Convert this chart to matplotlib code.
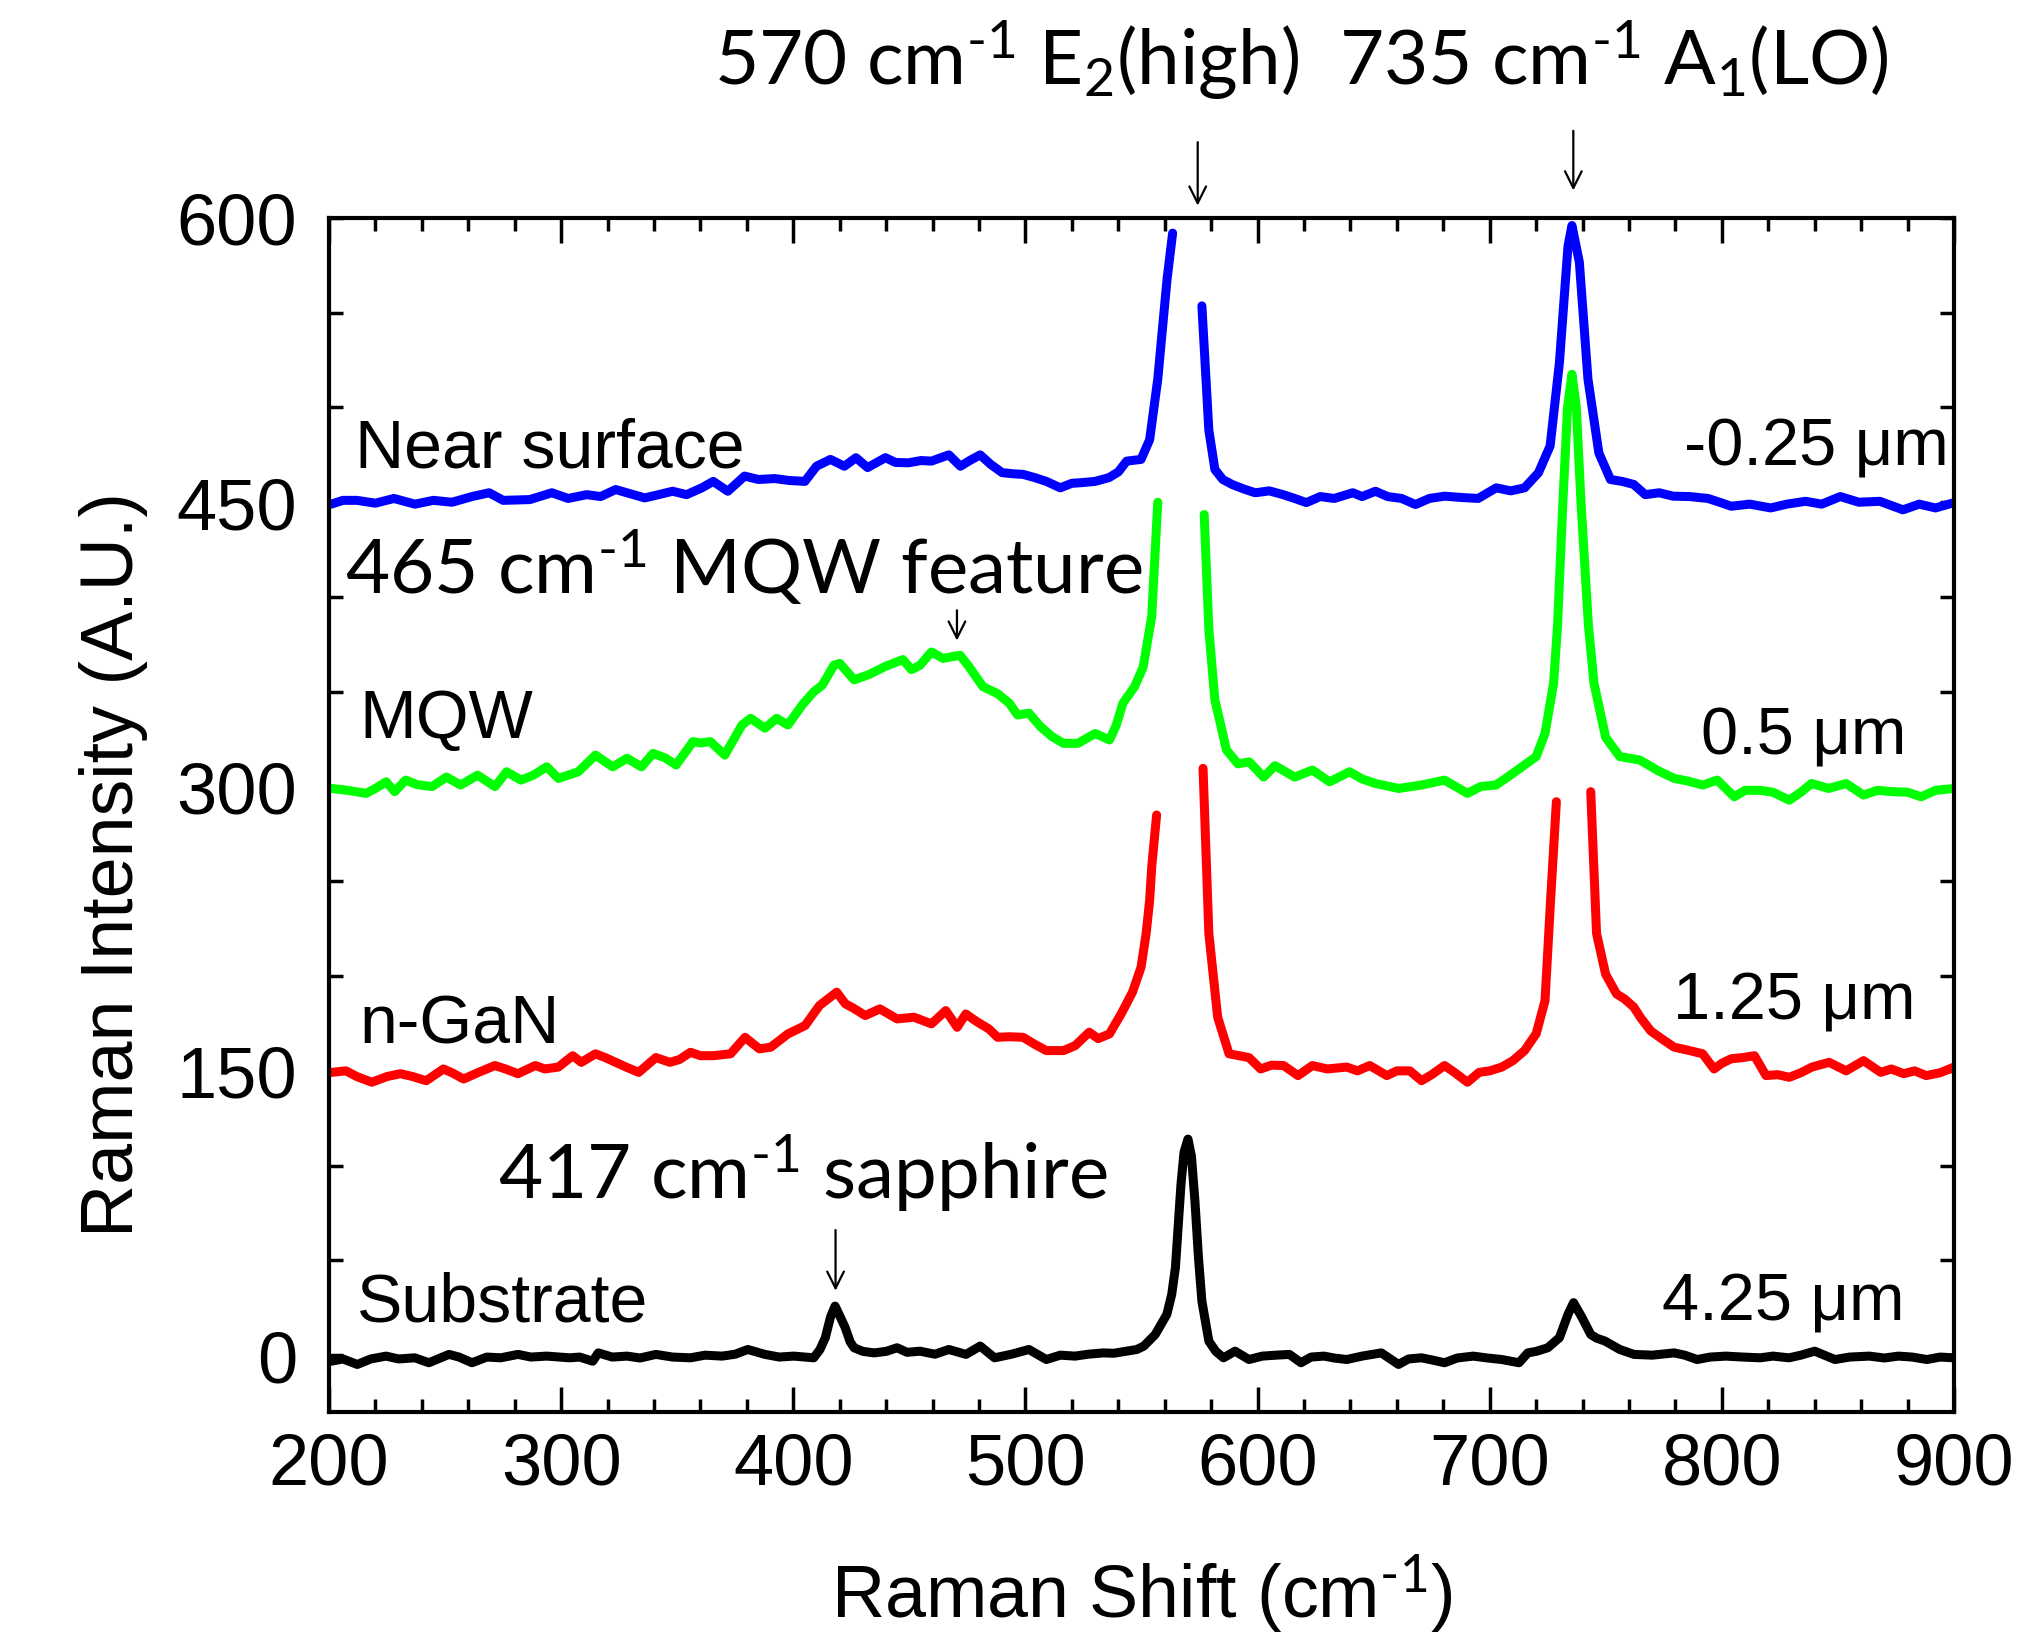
import numpy as np
import matplotlib
matplotlib.use("Agg")
import matplotlib.pyplot as plt
from matplotlib.ticker import MultipleLocator

nan = np.nan

# Near surface (-0.25 um)
blue_x = [201, 206, 212, 220, 228, 237, 245, 253, 261.6, 269, 275, 286.5, 296, 303, 311, 317,
          323.5, 336, 342, 348, 354, 360.6, 365.5, 371.8, 379, 385, 392, 398, 405, 410, 416,
          422, 427, 432, 439.7, 444, 449.6, 455, 459.5, 467, 472, 476, 480.5, 485, 490, 495,
          499, 504, 509, 515, 520, 523.8, 530, 536, 540, 543.6, 549.8, 553.5, 557, 561, 563.4,
          570, 576, 579, 581.6, 585, 589, 594, 599, 605, 611, 616, 621, 627, 633, 641, 645,
          650.8, 656, 662, 668, 674, 680.5, 688, 695, 702.8, 709, 715, 721, 726, 730, 733.7,
          735.4, 738.6, 742.3, 747, 752, 757, 762, 767, 773, 779, 786, 794, 799, 804, 812,
          821, 828, 836, 843, 851, 859, 868, 878, 885, 892, 900]
blue_y = [449, 451, 451, 449.5, 452, 449, 451, 450, 453, 455, 451, 451.4, 455, 452, 454, 453,
          456.7, 452.3, 454, 455.8, 454, 457.6, 461, 455.8, 463.8, 462, 462.5, 461.5, 461, 469, 472.6,
          469, 473.5, 468.3, 473.5, 471, 470.8, 472, 471.7, 475, 469, 472, 475, 470, 465.6, 465,
          464.7, 463, 461, 457.6, 460, 460.3, 461, 463, 466, 471.7, 472.6, 483, 515, 567.7, 592,
          nan, 553.6, 488, 467.3, 462, 459.4, 457, 455, 456, 454, 452, 449.8, 453, 452, 455, 453,
          455.8, 453, 452, 448.8, 452, 453.2, 452.5, 452, 457.6, 456, 457.6, 465.6, 479.7, 523.5, 585,
          596, 576.6, 515, 476, 462, 461, 459.4, 454, 455, 453.2, 453, 452, 450, 447.9, 449,
          447, 449, 450.5, 449, 453, 450, 450.5, 446, 449, 447, 449.8]

# MQW (0.5 um)
green_x = [201, 208, 216, 220, 224.6, 228.3, 233, 238, 244.4, 250.6, 256.7, 264, 271.5, 276.5,
           282.7, 288, 293.8, 298.8, 303, 307.4, 314.8, 322.2, 328.4, 334.6, 339.6, 345, 349.5,
           356.8, 360, 364.3, 370.5, 377.9, 381.6, 387.8, 392.8, 397.7, 403.9, 408.8, 412.5,
           417.5, 420, 426.2, 432.4, 439.7, 447.2, 450.9, 454.6, 459.5, 464.5, 471.8, 475.6,
           481.7, 488, 493, 496.6, 501.5, 506.5, 511.4, 516.4, 522.6, 530, 536.2, 539, 542, 547,
           550.7, 554.4, 557, 567, 577, 579, 581.6, 586.6, 591.5, 596.4, 602.6, 607.5, 616,
           623.6, 631, 639.6, 645, 650.8, 660.7, 670.6, 680.5, 690.4, 696, 702.7, 710, 720,
           723.8, 727.5, 729.2, 731.5, 733.5, 735.4, 737.3, 739.3, 742.5, 744.9, 749.9, 756,
           764.6, 772, 779.4, 785, 791.8, 798, 805.3, 810, 816.5, 822, 829, 834, 838.6, 846,
           853.5, 861, 867, 873.4, 880, 885.8, 892, 900]
green_y = [299, 298, 296.4, 299, 302.5, 297.3, 303.4, 301, 300, 305, 300.8, 306, 300, 307.8,
           303.4, 306, 310.4, 304.3, 306, 307.8, 316.6, 310.4, 314.9, 310.4, 317.5, 315, 311.4,
           323.7, 323, 323.7, 316.6, 332.5, 336, 330.8, 336, 332.5, 343.1, 350, 353.5,
           364, 365, 356.3, 359, 363.4, 367, 361.7, 364, 371, 367.6, 369.3, 363.4,
           352.7, 349, 344, 337.8, 338.7, 331.6, 326.4, 322.8, 322.8, 328, 324.6, 332, 344, 352.7,
           363, 389.8, 450, nan, 443.5, 383, 345.7, 319.3, 312, 313, 305, 311, 305,
           308.7, 302.5, 307.8, 304, 301.6, 299, 300.8, 303.4, 296.4, 300, 300.8, 307, 315.8,
           328, 354.5, 385, 450, 500, 517.5, 500, 450, 385, 354.5, 326, 315.8,
           314, 308.7, 304.3, 303, 300.8, 303.4, 294.6, 298, 298, 297, 292.8, 297, 301.6, 299,
           301.6, 295.5, 298, 297.3, 297, 294.6, 298, 299]

# n-GaN (1.25 um)
red_x = [201, 207.3, 212, 218.4, 225, 230.8, 236, 241.9, 249.3, 253, 258, 264, 271.5, 276,
         281.4, 288.9, 293, 298.8, 305, 308.7, 314.8, 319, 323.5, 328, 333.4, 340.8, 346.9, 351,
         355.7, 360, 365.5, 373, 379.2, 385.4, 390.3, 397.7, 405.1, 411.3, 418.7, 422.4, 426,
         431, 437.3, 444.7, 452, 459.5, 465.7, 470.6, 474.3, 479, 484.3, 488, 493, 499, 504,
         509, 516.4, 521.4, 527.5, 531.3, 536.2, 541.2, 546.1, 549.8, 552, 553.5, 554.4, 556.5,
         567, 576.5, 579, 582.8, 587.7, 592, 596.3, 601.3, 606, 611.2, 617.4, 623.6, 630, 638.4,
         643, 648.3, 655.7, 660, 665.6, 670.6, 675, 680.5, 685, 690.4, 695.4, 700, 705.2, 710,
         715, 720, 723.8, 726.2, 728.7, 736, 743.5, 746, 749.9, 754.6, 758, 762, 765, 769.4,
         774, 779.4, 785, 791.7, 796.6, 800, 804, 809, 814, 819, 824, 829, 834, 838.8, 846.2,
         853.5, 861, 868.4, 873, 878.3, 883, 888, 894, 900]
red_y = [149.2, 150, 147, 144, 147, 148.5, 147, 144.8, 151, 149, 145.7, 149, 152.8, 151,
         148.5, 152.8, 151, 152, 158, 154.5, 159, 157, 154.5, 152, 149.2, 157, 154.5, 156,
         159.8, 158, 158, 159, 167.7, 161.6, 162.5, 169.5, 173.9, 184.5, 191.5, 185.4, 183,
         179.2, 182.7, 177.4, 178.3, 174.8, 181.8, 173, 180, 176, 172.1, 167.7, 168, 167.7, 164,
         160.7, 160.7, 163.3, 170.4, 167, 169.5, 180, 191.5, 204.7, 222.5, 240, 257.7, 285,
         nan, 309.6, 222.5, 178.3, 159, 158, 157, 151, 153, 152.8, 147.5, 152.8, 151, 152,
         150, 152.8, 147.5, 150, 150, 144.8, 148, 152.8, 149, 144, 149.2, 150, 152, 155.4,
         160.7, 169.6, 187, 240, 292, nan, 297.3, 222.5, 201, 190.6, 188, 183.7, 178, 171,
         167, 162.5, 161, 159, 151, 154, 156.4, 157, 158, 147.5, 148, 146.6, 149, 152, 154.5,
         150, 155.4, 149.2, 151, 148.5, 150, 147.5, 149, 152]

# Substrate (4.25 um)
black_x = [201, 206, 212.2, 218, 224.6, 230, 237, 243, 251.7, 256, 261.6, 268, 274, 281.4, 287,
           293.8, 303.7, 308, 313.6, 316, 322, 328.4, 334, 340.8, 348, 355.7, 362, 369.3, 375,
           380.4, 387.8, 394, 400.2, 408.8, 411.5, 413.8, 416, 418, 420.3, 422.4, 424.5, 426.2,
           430, 434.8, 440, 444.7, 449, 454.6, 461, 467, 474.4, 480.5, 486.7, 494, 501.5, 509,
           515, 521.4, 527, 533.6, 538, 543.6, 548, 551, 555.9, 560.9, 563, 564.6, 567, 568.3,
           570, 571.5, 573, 574.5, 576, 579, 582, 585.3, 590.3, 596.3, 602, 608, 613.7, 618.7,
           623, 628.6, 633, 638.4, 645, 653.3, 660.7, 665, 670.6, 675, 680.5, 686, 692.9, 699,
           705.2, 712.6, 716.4, 720, 725, 730, 733.7, 736.1, 739.8, 743.5, 746, 749.7, 756,
           762.1, 770, 779.4, 784, 789.3, 795, 801.7, 809, 816.5, 822, 828.9, 834, 840, 848.7,
           855, 863.5, 870, 876, 882, 888.3, 894, 900]
black_y = [-3.2, -2, -4.9, -2, -0.5, -2, -1.4, -4, 0.4, -1, -4, -1, -1.4, 0.4, -1,
           -0.5, -1.4, -1, -3.2, 1.2, -1, -0.5, -1.5, 0.4, -1, -1.4, 0, -0.5, 0.5,
           3, 0.4, -1, -0.5, -1.4, 3, 9.2, 20, 25.9, 20, 14.4, 7, 3.9,
           2, 1.2, 2, 3.9, 1.5, 2.1, 0.5, 3, 0.4, 4.8, -1.4, 0.5, 3, -2.3,
           0, -0.5, 0.5, 1.2, 1, 2.1, 3, 4.8, 10.9, 21.5, 32, 46.2, 90.2, 107,
           114, 105, 81.4, 52, 28.5, 7.4, 2, -1.4, 2.1, -2.3, -0.5, 0, 0.4, -4,
           -1, -0.5, -1.5, -2.3, -0.5, 1.2, -4.9, -2, -1.4, -2.5, -4, -1.5, -0.5, -1.5,
           -2.3, -4, 1.2, 2, 3.9, 9.2, 21.5, 27.7, 19.7, 10.9, 9, 7.4, 3,
           0.4, 0, 1.2, 0, -2.3, -1, -0.5, -1, -1.4, -0.5, -1.4, 0, 2.1, -2.3,
           -1, -0.5, -1.5, -0.5, -1, -2.3, -1, -1.4]

sample_names = ["Near surface", "MQW", "n-GaN", "Substrate"]
depths = [u"-0.25 \u03bcm", u"0.5 \u03bcm", u"1.25 \u03bcm", u"4.25 \u03bcm"]
colors = ["#0000ff", "#00ff00", "#ff0000", "#000000"]

plt.rcParams['font.family'] = ['Liberation Sans', 'DejaVu Sans']
plt.rcParams['mathtext.fontset'] = 'custom'
plt.rcParams['mathtext.rm'] = 'Lato'
plt.rcParams['mathtext.it'] = 'Lato:italic'
plt.rcParams['mathtext.bf'] = 'Lato:bold'

fig = plt.figure(figsize=(20.22, 16.4), dpi=100)
ax = fig.add_axes([0.1627, 0.1384, 0.8037, 0.7281])

series = [(blue_x, blue_y), (green_x, green_y), (red_x, red_y), (black_x, black_y)]
for (xs, ys), c in zip(series, colors):
    ax.plot(xs, ys, color=c, lw=6.5, solid_capstyle='round', solid_joinstyle='round')

ax.set_xlim(200, 900)
ax.set_ylim(-30, 600)
ax.xaxis.set_major_locator(MultipleLocator(100))
ax.xaxis.set_minor_locator(MultipleLocator(20))
ax.yaxis.set_major_locator(MultipleLocator(150))
ax.yaxis.set_minor_locator(MultipleLocator(50))
ax.tick_params(which='both', direction='in', top=True, right=True, width=2.5)
ax.tick_params(axis='x', which='major', length=18, pad=14, labelsize=52)
ax.tick_params(axis='x', which='minor', length=9.5)
ax.tick_params(axis='y', which='both', length=10)
ax.tick_params(axis='y', which='major', pad=23, labelsize=52)
for s in ax.spines.values():
    s.set_linewidth(3)

ax.set_xlabel(r'Raman Shift (cm$^{\text{-1}}$)', fontsize=53)
ax.xaxis.set_label_coords(0.5, -0.1717)
ax.xaxis.label.set_va('baseline')
ax.set_ylabel('Raman Intensity (A.U.)', fontsize=53)
ax.yaxis.set_label_coords(-0.1206, 0.459)
ax.yaxis.label.set_va('baseline')

# sample names and depths
name_pos = [(211, 469), (213, 326), (213, 165), (212, 18.5)]
depth_pos = [(897.5, 470), (879.5, 317.5), (883.5, 177.5), (878.5, 19)]
for name, (nx, ny), d, (dx, dy) in zip(sample_names, name_pos, depths, depth_pos):
    ax.text(nx, ny, name, fontsize=49, ha='left', va='baseline')
    ax.text(dx, dy, d, fontsize=48, ha='right', va='baseline')

# peak annotations
ann = dict(fontsize=55, family=['Lato', 'DejaVu Sans'], va='baseline', ha='center')
ax.text(491.8, 670.8, r'570 cm$^{\text{-1}}$ E$_2$(high)', clip_on=False, **ann)
ax.text(753.5, 670.8, r'735 cm$^{\text{-1}}$ A$_1$(LO)', clip_on=False, **ann)
ax.text(378.5, 402, r'465 cm$^{\text{-1}}$ MQW feature', **ann)
ax.text(403.9, 83.2, r'417 cm$^{\text{-1}}$ sapphire', **ann)

arrow = dict(arrowstyle='->', lw=1.6, color='black', mutation_scale=30, shrinkA=0, shrinkB=0)
ax.annotate('', xy=(574.2, 606.5), xytext=(574.2, 640), arrowprops=arrow, annotation_clip=False)
ax.annotate('', xy=(736, 614.5), xytext=(736, 646), arrowprops=arrow, annotation_clip=False)
ax.annotate('', xy=(470.5, 377), xytext=(470.5, 393), arrowprops=arrow)
ax.annotate('', xy=(418.2, 34), xytext=(418.2, 66), arrowprops=arrow)

fig.savefig('out.png', dpi=100)
